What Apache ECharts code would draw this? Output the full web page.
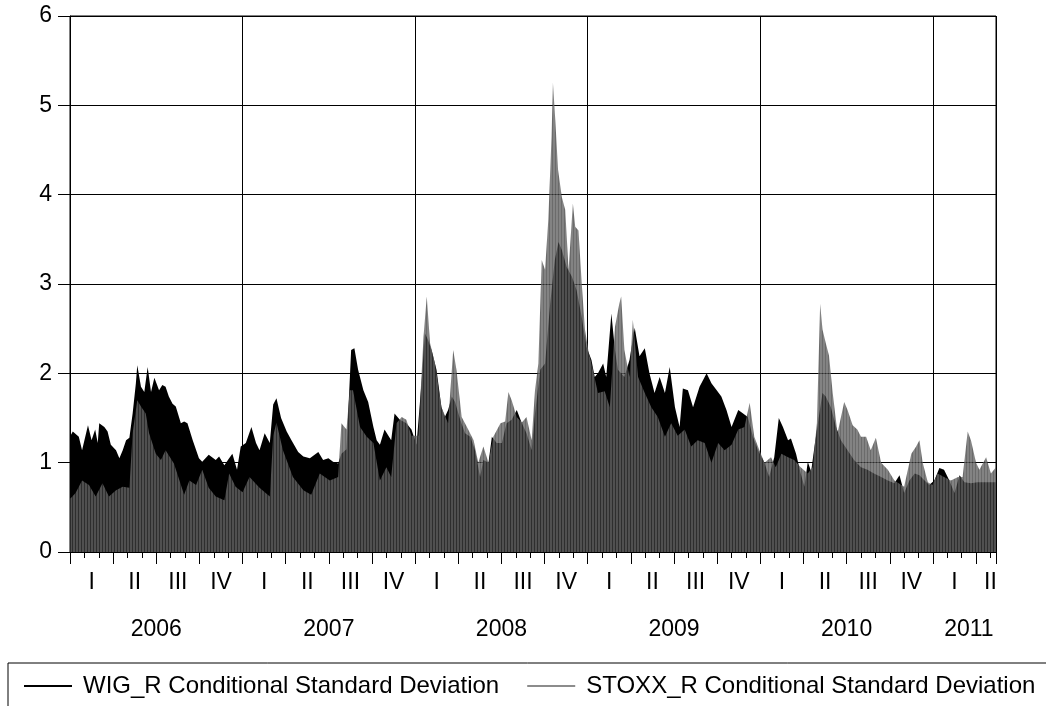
<!DOCTYPE html>
<html>
<head>
<meta charset="utf-8">
<script src="https://cdn.jsdelivr.net/npm/echarts@6/dist/echarts.min.js"></script>
<style>
  html, body { margin: 0; padding: 0; background: #fff; }
  #chart { width: 1046px; height: 706px; }
</style>
</head>
<body>
<div id="chart"></div>
<script>
// WIG_R conditional standard deviation
const wigDates = [
  '2006-01-02','2006-01-07','2006-01-20','2006-01-27','2006-02-08','2006-02-15','2006-02-22','2006-02-27',
  '2006-03-02','2006-03-13','2006-03-20','2006-03-27','2006-04-07','2006-04-14','2006-04-21','2006-04-28',
  '2006-05-05','2006-05-12','2006-05-19','2006-05-22','2006-05-30','2006-06-06','2006-06-13','2006-06-20',
  '2006-06-27','2006-07-07','2006-07-14','2006-07-21','2006-07-28','2006-08-05','2006-08-12','2006-08-23',
  '2006-08-30','2006-09-06','2006-09-17','2006-09-30','2006-10-07','2006-10-21','2006-11-05','2006-11-12',
  '2006-11-23','2006-12-03','2006-12-10','2006-12-20','2006-12-28','2007-01-08','2007-01-20','2007-01-30',
  '2007-02-06','2007-02-16','2007-02-26','2007-03-05','2007-03-12','2007-03-22','2007-04-03','2007-04-13',
  '2007-04-27','2007-05-08','2007-05-22','2007-06-09','2007-06-19','2007-06-30','2007-07-10','2007-07-21',
  '2007-07-28','2007-08-08','2007-08-18','2007-08-25','2007-09-02','2007-09-13','2007-09-23','2007-10-04',
  '2007-10-11','2007-10-18','2007-10-28','2007-11-11','2007-11-18','2007-11-29','2007-12-13','2007-12-24',
  '2008-01-04','2008-01-15','2008-01-22','2008-01-29','2008-02-05','2008-02-15','2008-02-25','2008-03-03',
  '2008-03-10','2008-03-18','2008-03-25','2008-04-05','2008-04-15','2008-04-26','2008-05-06','2008-05-17',
  '2008-05-24','2008-06-04','2008-06-11','2008-06-21','2008-07-02','2008-07-12','2008-07-23','2008-08-03',
  '2008-08-14','2008-08-24','2008-09-04','2008-09-11','2008-09-22','2008-10-02','2008-10-13','2008-10-23',
  '2008-10-31','2008-11-07','2008-11-17','2008-11-28','2008-12-08','2008-12-19','2008-12-29','2009-01-09',
  '2009-01-16','2009-01-23','2009-02-03','2009-02-09','2009-02-19','2009-02-26','2009-03-04','2009-03-18',
  '2009-03-29','2009-04-09','2009-04-19','2009-04-30','2009-05-10','2009-05-21','2009-06-01','2009-06-12',
  '2009-06-22','2009-07-03','2009-07-13','2009-07-20','2009-07-31','2009-08-11','2009-08-25','2009-09-09',
  '2009-09-19','2009-09-30','2009-10-10','2009-10-21','2009-11-01','2009-11-15','2009-11-25','2009-12-05',
  '2009-12-16','2009-12-27','2010-01-10','2010-01-20','2010-01-31','2010-02-09','2010-02-17','2010-02-27',
  '2010-03-05','2010-03-16','2010-03-26','2010-04-03','2010-04-10','2010-04-17','2010-04-24','2010-05-01',
  '2010-05-11','2010-05-18','2010-05-29','2010-06-09','2010-06-19','2010-07-03','2010-07-17','2010-08-01',
  '2010-08-15','2010-08-29','2010-09-13','2010-09-27','2010-10-11','2010-10-22','2010-11-01','2010-11-12',
  '2010-11-23','2010-12-03','2010-12-14','2010-12-24','2011-01-04','2011-01-15','2011-01-25','2011-02-05',
  '2011-02-15','2011-02-25','2011-03-07','2011-03-21','2011-04-04','2011-04-18','2011-05-02','2011-05-13'
];
const wigValues = [
  1.30,1.35,1.29,1.14,1.42,1.25,1.37,1.22,
  1.44,1.40,1.35,1.20,1.14,1.05,1.14,1.25,
  1.28,1.55,1.89,2.09,1.85,1.79,2.07,1.79,
  1.95,1.81,1.87,1.85,1.74,1.66,1.63,1.44,
  1.46,1.44,1.25,1.05,1.01,1.09,1.03,1.07,
  0.97,1.05,1.10,0.92,1.18,1.22,1.40,1.22,
  1.14,1.33,1.22,1.65,1.72,1.50,1.35,1.25,
  1.12,1.07,1.05,1.12,1.03,1.05,1.01,0.99,
  1.10,1.15,2.26,2.28,2.04,1.81,1.68,1.40,
  1.25,1.20,1.37,1.25,1.55,1.48,1.44,1.37,
  1.20,1.92,2.45,2.37,2.26,2.04,1.62,1.51,
  1.59,1.74,1.68,1.48,1.33,1.29,1.14,0.84,
  1.03,1.00,1.29,1.22,1.22,1.44,1.48,1.59,
  1.44,1.33,1.14,1.55,2.04,2.11,2.78,3.27,
  3.47,3.38,3.19,3.08,2.93,2.63,2.30,2.15,
  1.96,2.00,2.11,1.96,2.67,2.26,2.04,1.96,
  2.15,2.51,2.19,2.28,2.00,1.78,1.96,1.78,
  2.07,1.62,1.40,1.83,1.81,1.62,1.85,2.00,
  1.89,1.81,1.74,1.59,1.40,1.59,1.55,1.51,
  1.29,1.14,1.00,0.84,1.06,1.50,1.40,1.25,
  1.27,1.10,0.88,0.73,1.01,0.90,1.18,1.44,
  1.78,1.74,1.62,1.40,1.25,1.14,1.03,0.95,
  0.92,0.88,0.84,0.80,0.77,0.86,0.66,0.80,
  0.88,0.86,0.80,0.75,0.80,0.94,0.92,0.80,
  0.66,0.86,0.78,0.77,0.78,0.78,0.78,0.78
];

// STOXX_R conditional standard deviation
const stoxxDates = [
  '2006-01-02','2006-01-13','2006-01-27','2006-02-10','2006-02-23','2006-03-09','2006-03-23','2006-04-07',
  '2006-04-21','2006-05-05','2006-05-12','2006-05-22','2006-05-30','2006-06-09','2006-06-16','2006-06-30',
  '2006-07-11','2006-07-21','2006-08-08','2006-08-30','2006-09-10','2006-09-24','2006-10-07','2006-10-21',
  '2006-11-05','2006-11-23','2006-12-03','2006-12-17','2007-01-01','2007-01-08','2007-01-16','2007-02-06',
  '2007-02-26','2007-03-05','2007-03-12','2007-03-26','2007-04-16','2007-05-08','2007-05-25','2007-06-12',
  '2007-07-03','2007-07-21','2007-07-28','2007-08-08','2007-08-15','2007-08-22','2007-09-06','2007-09-20',
  '2007-10-04','2007-10-18','2007-11-01','2007-11-11','2007-11-22','2007-12-03','2007-12-13','2007-12-24',
  '2008-01-08','2008-01-19','2008-01-26','2008-02-02','2008-02-12','2008-02-25','2008-03-10','2008-03-21',
  '2008-03-28','2008-04-08','2008-04-19','2008-05-03','2008-05-13','2008-05-24','2008-06-04','2008-06-14',
  '2008-06-29','2008-07-09','2008-07-16','2008-07-23','2008-08-03','2008-08-14','2008-08-24','2008-09-04',
  '2008-09-11','2008-09-18','2008-09-25','2008-10-02','2008-10-09','2008-10-16','2008-10-19','2008-10-24',
  '2008-10-30','2008-11-07','2008-11-14','2008-11-21','2008-11-30','2008-12-05','2008-12-12','2008-12-19',
  '2008-12-26','2009-01-03','2009-01-09','2009-01-23','2009-02-06','2009-02-16','2009-02-26','2009-03-07',
  '2009-03-11','2009-03-18','2009-03-29','2009-04-05','2009-04-16','2009-04-30','2009-05-14','2009-05-28',
  '2009-06-12','2009-06-25','2009-07-09','2009-07-24','2009-08-07','2009-08-21','2009-09-05','2009-09-19',
  '2009-10-03','2009-10-17','2009-11-01','2009-11-15','2009-11-28','2009-12-09','2009-12-19','2009-12-30',
  '2010-01-10','2010-01-24','2010-02-03','2010-02-14','2010-02-27','2010-03-12','2010-03-26','2010-04-10',
  '2010-04-20','2010-04-29','2010-05-06','2010-05-11','2010-05-18','2010-05-25','2010-06-02','2010-06-12',
  '2010-06-26','2010-07-03','2010-07-14','2010-07-24','2010-08-01','2010-08-12','2010-08-22','2010-09-02',
  '2010-09-13','2010-09-27','2010-10-11','2010-11-01','2010-11-16','2010-11-26','2010-12-03','2010-12-10',
  '2010-12-21','2010-12-31','2011-01-11','2011-01-25','2011-02-08','2011-02-22','2011-03-03','2011-03-14',
  '2011-03-21','2011-04-01','2011-04-08','2011-04-22','2011-05-02','2011-05-13'
];
const stoxxValues = [
  0.60,0.66,0.80,0.75,0.62,0.77,0.62,0.69,
  0.73,0.72,1.33,1.70,1.63,1.55,1.33,1.10,
  1.03,1.14,0.99,0.64,0.80,0.75,0.92,0.72,
  0.62,0.58,0.88,0.73,0.67,0.75,0.84,0.72,
  0.62,1.30,1.45,1.14,0.84,0.69,0.64,0.88,
  0.80,0.84,1.44,1.37,1.81,1.81,1.40,1.29,
  1.22,0.80,0.95,0.84,1.44,1.51,1.48,1.30,
  1.30,2.41,2.86,2.34,2.11,1.62,1.44,2.26,
  2.04,1.51,1.40,1.25,1.00,1.18,1.00,1.29,
  1.44,1.46,1.79,1.70,1.51,1.45,1.51,1.25,
  1.81,2.11,3.27,3.16,3.72,4.65,5.25,4.84,
  4.28,3.97,3.83,3.16,3.90,3.64,3.60,3.01,
  2.49,2.23,2.11,1.78,1.80,1.62,2.52,2.78,
  2.86,2.26,1.96,2.60,1.96,1.78,1.62,1.51,
  1.29,1.44,1.30,1.37,1.18,1.25,1.22,1.00,
  1.22,1.14,1.20,1.37,1.40,1.67,1.29,1.14,
  1.00,1.06,0.95,1.10,1.06,1.03,0.95,0.88,
  0.95,1.44,2.78,2.49,2.34,2.20,1.78,1.33,
  1.68,1.59,1.42,1.37,1.29,1.29,1.14,1.28,
  1.00,0.92,0.80,0.73,1.10,1.18,1.25,1.00,
  0.78,0.75,0.88,0.84,0.80,0.84,0.84,1.35,
  1.25,1.00,0.92,1.06,0.88,0.95
];

const yearLabels = ['2006', '2007', '2008', '2009', '2010', '2011'];
const quarterLabels = ['I', 'II', 'III', 'IV'];
const yTickValues = [0, 1, 2, 3, 4, 5, 6];

const WIG_NAME = 'WIG_R Conditional Standard Deviation';
const STOXX_NAME = 'STOXX_R Conditional Standard Deviation';
const FONT = '"Liberation Sans", Arial, Helvetica, sans-serif';

// Position on the x axis: months elapsed since 1 January 2006.
function monthIndex(s) {
  const [y, m, d] = s.split('-').map(Number);
  const daysInMonth = new Date(y, m, 0).getDate();
  return (y - 2006) * 12 + (m - 1) + (d - 1) / daysInMonth;
}
const START = 0;
const END = monthIndex(wigDates[wigDates.length - 1]);

// Label positions snapped to the half-month grid of the label axes,
// pulled left when a label would run past the end of the sample.
const quarterAt = {};
const yearAt = {};
yearLabels.forEach((yl, i) => {
  const yStart = 12 * i;
  if (yStart >= END) return;
  yearAt[Math.round(Math.min(yStart + 6, END - 1.9) * 2)] = yl;
  quarterLabels.forEach((ql, q) => {
    const qStart = yStart + 3 * q;
    if (qStart >= END) return;
    quarterAt[Math.round(Math.min(qStart + 1.5, END - 0.3) * 2)] = ql;
  });
});

// Vertical hatch used to fill the STOXX area (translucent, so the
// WIG area underneath shows through darker)
const hatch = document.createElement('canvas');
hatch.width = 3; hatch.height = 4;
const hg = hatch.getContext('2d');
hg.fillStyle = 'rgba(60,60,60,0.76)';
hg.fillRect(0, 0, 1, 4);
hg.fillStyle = 'rgba(100,100,100,0.80)';
hg.fillRect(1, 0, 2, 4);

const wigData = wigDates.map((d, i) => [monthIndex(d), wigValues[i]]);
const stoxxData = stoxxDates.map((d, i) => [monthIndex(d), stoxxValues[i]]);

const baseX = {
  type: 'value', gridIndex: 0, min: START, max: END, position: 'bottom',
  axisLine: { show: false }, axisTick: { show: false },
  axisLabel: { show: false }, splitLine: { show: false }
};

const chart = echarts.init(document.getElementById('chart'), null, { renderer: 'canvas' });
chart.setOption({
  animation: false,
  backgroundColor: '#fff',
  textStyle: { fontFamily: FONT },
  grid: {
    left: 70, right: 50, top: 16, bottom: 154,
    show: true, borderColor: '#000', borderWidth: 1,
    containLabel: false, outerBoundsMode: 'none'
  },
  xAxis: [
    // monthly ticks + axis line; carries the data
    Object.assign({}, baseX, {
      interval: 1,
      axisLine: { show: true, onZero: false, lineStyle: { color: '#000', width: 1 } },
      axisTick: { show: true, length: 6, lineStyle: { color: '#000', width: 1 } }
    }),
    // quarterly ticks
    Object.assign({}, baseX, {
      interval: 3,
      axisTick: { show: true, length: 12, lineStyle: { color: '#000', width: 1 } }
    }),
    // year grid lines
    Object.assign({}, baseX, {
      interval: 12,
      splitLine: { show: true, lineStyle: { color: '#000', width: 1 } }
    }),
    // quarter labels
    Object.assign({}, baseX, {
      interval: 0.5,
      axisLabel: {
        show: true, margin: 19, color: '#000', fontSize: 23, fontFamily: FONT,
        formatter: v => quarterAt[Math.round(v * 2)] || ''
      }
    }),
    // year labels
    Object.assign({}, baseX, {
      interval: 0.5,
      axisLabel: {
        show: true, margin: 66, color: '#000', fontSize: 23, fontFamily: FONT,
        formatter: v => yearAt[Math.round(v * 2)] || ''
      }
    })
  ],
  yAxis: {
    type: 'value', min: yTickValues[0], max: yTickValues[yTickValues.length - 1], interval: 1,
    axisLine: { show: true, lineStyle: { color: '#000', width: 1 } },
    axisTick: { show: true, length: 12, lineStyle: { color: '#000', width: 1 } },
    axisLabel: { margin: 18, color: '#000', fontSize: 23, fontFamily: FONT },
    splitLine: { show: true, lineStyle: { color: '#000', width: 1 } }
  },
  legend: {
    left: 8, top: 663, width: 1200,
    orient: 'horizontal',
    padding: [11, 40, 40, 16],
    borderColor: '#000', borderWidth: 1,
    icon: 'rect', itemWidth: 48, itemHeight: 2, itemGap: 28,
    selectedMode: false,
    textStyle: { fontFamily: FONT, fontSize: 24, color: '#000', padding: [0, 0, 0, 6] },
    data: [
      { name: WIG_NAME, itemStyle: { color: '#000', borderWidth: 0 } },
      { name: STOXX_NAME, itemStyle: { color: '#8c8c8c', borderWidth: 0 } }
    ]
  },
  series: [
    {
      name: WIG_NAME, type: 'line', xAxisIndex: 0, yAxisIndex: 0,
      data: wigData, symbol: 'none', showSymbol: false,
      itemStyle: { color: '#000' },
      lineStyle: { width: 0, opacity: 0 },
      areaStyle: { color: '#000', opacity: 1 }
    },
    {
      name: STOXX_NAME, type: 'line', xAxisIndex: 0, yAxisIndex: 0,
      data: stoxxData, symbol: 'none', showSymbol: false,
      itemStyle: { color: '#8c8c8c' },
      lineStyle: { width: 0, opacity: 0 },
      areaStyle: { color: { image: hatch, repeat: 'repeat' }, opacity: 1 }
    }
  ]
});
</script>
</body>
</html>
